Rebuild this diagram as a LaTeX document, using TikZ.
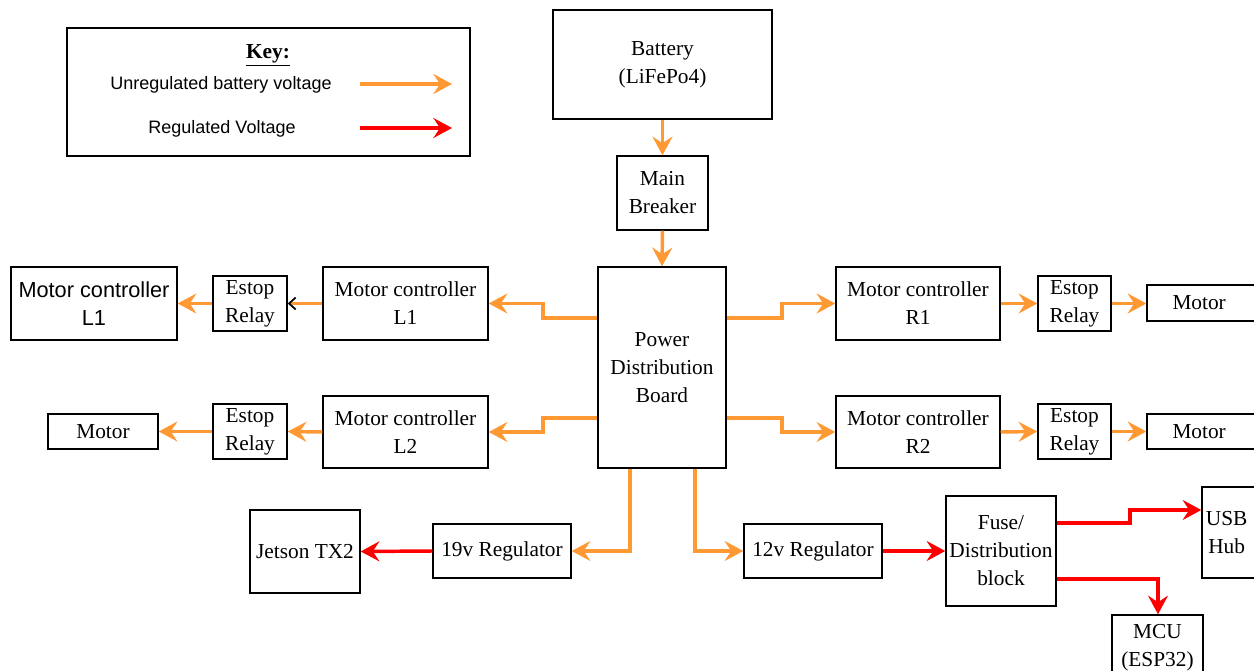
\documentclass[tikz,border=0pt]{standalone}
\usepackage{fontspec}
\setmainfont{Liberation Serif}
\setsansfont{Liberation Sans}
\usetikzlibrary{arrows.meta}
\definecolor{orng}{RGB}{255,153,51}
\definecolor{rd}{RGB}{255,0,0}
\tikzset{
  box/.style={draw, line width=1.1pt, align=center, inner sep=0pt,
    font=\fontsize{16}{21}\selectfont},
  sbox/.style={box, font=\sffamily\fontsize{16.3}{21}\selectfont},
  pw/.style={draw=orng, line width=2.6pt,
    -{Stealth[length=14pt,width=15pt,inset=5pt]}},
  rw/.style={draw=rd, line width=2.6pt,
    -{Stealth[length=14pt,width=15pt,inset=5pt]}},
  keytxt/.style={font=\sffamily\fontsize{13.5}{16}\selectfont, inner sep=0pt},
}
\newcommand\bx[7][]{\node[box,#1,minimum width={(#5-#3)*0.75pt},minimum height={(#6-#4)*0.75pt}] (#2) at ({(#3+#5)/2},{(#4+#6)/2}) {#7};}
\begin{document}
\begin{tikzpicture}[x=0.75pt,y=-0.75pt]
\useasboundingbox (0,0) rectangle (1254,671);
% key
\bx{key}{67}{28}{470}{156}{}
\node[inner sep=0pt, font=\bfseries\fontsize{16}{20}\selectfont] (keyt) at (268,55) {\underline{Key:}};
\node[keytxt] (k1) at (221,85) {Unregulated battery voltage};
\node[keytxt] (k2) at (222,129) {Regulated Voltage};
\coordinate (k1a) at (360,84); \coordinate (k1b) at (452,84);
\coordinate (k2a) at (360,128); \coordinate (k2b) at (452,128);
\draw[pw] (k1a) -- (k1b);
\draw[rw] (k2a) -- (k2b);
% boxes
\bx{bat}{553}{10}{772}{119}{Battery\\(LiFePo4)}
\bx{brk}{617}{156}{708}{230}{Main\\Breaker}
\bx{pdb}{598}{267}{726}{468}{Power\\Distribution\\Board}
\bx{mcl1}{323}{267}{488}{340}{Motor controller\\L1}
\bx{esl1}{213}{276}{287}{331}{Estop\\Relay}
\bx[sbox]{mcl1b}{11}{267}{177}{340}{Motor controller\\L1}
\bx{mcl2}{323}{396}{488}{468}{Motor controller\\L2}
\bx{esl2}{213}{404}{287}{459}{Estop\\Relay}
\bx{mol2}{48}{414}{158}{449}{Motor}
\bx{mcr1}{836}{267}{1000}{340}{Motor controller\\R1}
\bx{esr1}{1038}{276}{1111}{331}{Estop\\Relay}
\bx{mor1}{1147}{285}{1262}{321}{\hspace*{-8pt}Motor}
\bx{mcr2}{836}{396}{1000}{468}{Motor controller\\R2}
\bx{esr2}{1038}{404}{1111}{459}{Estop\\Relay}
\bx{mor2}{1147}{414}{1262}{449}{\hspace*{-8pt}Motor}
\bx{jet}{250}{510}{360}{593}{Jetson TX2}
\bx{r19}{433}{524}{571}{578}{19v Regulator}
\bx{r12}{744}{524}{882}{578}{12v Regulator}
\bx{fuse}{946}{496}{1056}{606}{Fuse/\\Distribution\\block}
\bx{usb}{1202}{487}{1262}{578}{\hspace*{-8pt}USB\\\hspace*{-8pt}Hub}
\bx{mcu}{1112}{615}{1203}{680}{MCU\\(ESP32)}
% connectors
\draw[pw] (bat.south) -- (brk.north);
\draw[pw] (brk.south) -- (pdb.north);
\draw[pw] (pdb.west |- 0,318) -- (543,318) |- (mcl1.east);
\draw[pw] (pdb.west |- 0,418) -- (543,418) |- (mcl2.east);
\draw[pw] (pdb.east |- 0,318) -- (782,318) |- (mcr1.west);
\draw[pw] (pdb.east |- 0,418) -- (782,418) |- (mcr2.west);
\draw[draw=orng, line width=2.6pt, -{Straight Barb[black,length=5pt,width=9pt,line width=1.3pt]}] (mcl1.west) -- (esl1.east);
\draw[pw] (esl1.west) -- (mcl1b.east);
\draw[pw] (mcl2.west) -- (esl2.east);
\draw[pw] (esl2.west) -- (mol2.east);
\draw[pw] (mcr1.east) -- (esr1.west);
\draw[pw] (esr1.east) -- (esr1.east -| mor1.west);
\draw[pw] (mcr2.east) -- (esr2.west);
\draw[pw] (esr2.east) -- (esr2.east -| mor2.west);
\draw[pw] (pdb.south -| 630,0) |- (r19.east);
\draw[pw] (pdb.south -| 695,0) |- (r12.west);
\draw[rw] (r19.west) -- (jet.east);
\draw[rw] (r12.east) -- (fuse.west);
\draw[rw] (fuse.east |- 0,523) -- (1130,523) -- (1130,510) -- (usb.west |- 0,510);
\draw[rw] (fuse.east |- 0,579) -| (mcu.north -| 1158,0);
\end{tikzpicture}
\end{document}
